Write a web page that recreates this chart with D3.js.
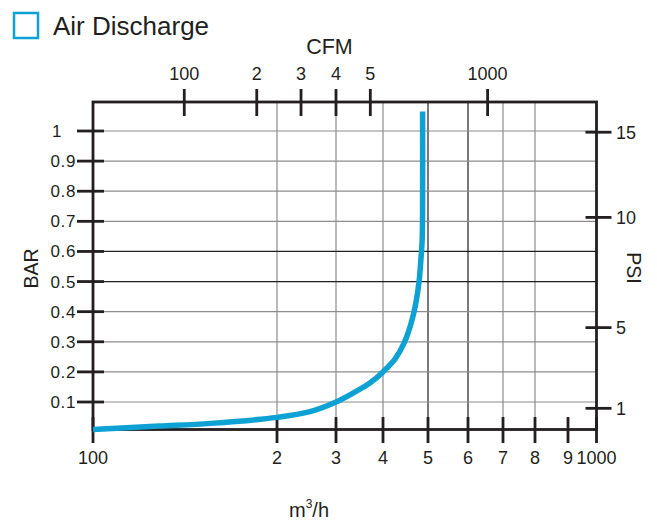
<!DOCTYPE html>
<html>
<head>
<meta charset="utf-8">
<script src="https://cdn.jsdelivr.net/npm/d3@7"></script>
<style>
  body { margin: 0; background: #fff; }
  text { font-family: "Liberation Sans", Arial, sans-serif; fill: #231f20; }
</style>
</head>
<body>
<div id="app"></div>
<script>
// curve: air flow (m3/h) vs pressure (bar)
const flowM3h     = [100, 136, 164, 200, 256, 300, 340, 372, 400, 427, 447, 462, 473, 480, 484, 487, 488, 488];
const pressureBar = [0.009, 0.02, 0.029, 0.049, 0.068, 0.1, 0.133, 0.163, 0.2, 0.243, 0.296, 0.359, 0.429, 0.498, 0.568, 0.638, 0.771, 1.065];

// bottom axis (m3/h)
const m3hTicks = [100, 200, 300, 400, 500, 600, 700, 800, 900, 1000];
const m3hTickLabels = ["100", "2", "3", "4", "5", "6", "7", "8", "9", "1000"];
const m3hGrid = [200, 300, 400, 500, 600, 700, 800];

// top axis (CFM), placed at their m3/h equivalent on the drawing
const cfmTicks = [149.6, 189, 240.7, 300, 373, 656];
const cfmTickLabels = ["100", "2", "3", "4", "5", "1000"];

// left axis (BAR)
const barTicks = [0.1, 0.2, 0.3, 0.4, 0.5, 0.6, 0.7, 0.8, 0.9, 1];
const barTickLabels = ["0.1", "0.2", "0.3", "0.4", "0.5", "0.6", "0.7", "0.8", "0.9", "1"];

// right axis (PSI), placed at their bar equivalent on the drawing
const psiTicks = [0.996, 0.713, 0.347, 0.079];
const psiTickLabels = ["15", "10", "5", "1"];

const width = 657;
const height = 520;
const plotLeft = 93, plotRight = 596.5, plotTop = 102, plotBottom = 429.5;
const ink = "#231f20";
const blue = "#0ea1d3";

// the printed scale is not a true log scale, so it is piecewise
const x = d3.scaleLinear()
  .domain(m3hTicks)
  .range([plotLeft, 277, 336, 383, 428, 468, 503, 535, 568, plotRight]);

const y = d3.scaleLinear()
  .domain([0.1, 1])
  .range([402, 131]);

const svg = d3.select("#app")
  .append("svg")
  .attr("width", width)
  .attr("height", height)
  .attr("viewBox", [0, 0, width, height]);

// legend
svg.append("rect")
  .attr("x", 14).attr("y", 13)
  .attr("width", 24).attr("height", 25)
  .attr("fill", "none")
  .attr("stroke", blue)
  .attr("stroke-width", 2.5);
svg.append("text")
  .attr("x", 53).attr("y", 35)
  .attr("font-size", 26)
  .text("Air Discharge");

// grid
const darkLines = new Set([500, 600, 0.5, 0.6]);
svg.append("g")
  .attr("stroke-width", 1.2)
  .call(g => g.append("g").selectAll("line")
    .data(m3hGrid)
    .join("line")
      .attr("x1", d => x(d)).attr("x2", d => x(d))
      .attr("y1", plotTop).attr("y2", plotBottom)
      .attr("stroke", d => darkLines.has(d) ? ink : "#8c8c8c"))
  .call(g => g.append("g").selectAll("line")
    .data(barTicks)
    .join("line")
      .attr("y1", d => y(d)).attr("y2", d => y(d))
      .attr("x1", plotLeft).attr("x2", plotRight)
      .attr("stroke", d => darkLines.has(d) ? ink : "#8c8c8c"));

// frame
svg.append("rect")
  .attr("x", plotLeft).attr("y", plotTop)
  .attr("width", plotRight - plotLeft)
  .attr("height", plotBottom - plotTop)
  .attr("fill", "none")
  .attr("stroke", ink)
  .attr("stroke-width", 2.8);

// bottom axis
const bottomAxis = svg.append("g");
bottomAxis.selectAll("line")
  .data(m3hTicks)
  .join("line")
    .attr("x1", d => x(d)).attr("x2", d => x(d))
    .attr("y1", plotBottom - 12.5).attr("y2", plotBottom + 13.5)
    .attr("stroke", ink).attr("stroke-width", 2.8);
bottomAxis.selectAll("text")
  .data(m3hTicks)
  .join("text")
    .attr("x", d => x(d))
    .attr("y", 464)
    .attr("text-anchor", "middle")
    .attr("font-size", 18)
    .text((d, i) => m3hTickLabels[i]);

const unit = svg.append("text")
  .attr("x", 289)
  .attr("y", 517)
  .attr("font-size", 20);
unit.append("tspan").text("m");
unit.append("tspan").attr("font-size", 12).attr("dy", -9).text("3");
unit.append("tspan").attr("dy", 9).text("/h");

// top axis
const topAxis = svg.append("g");
topAxis.selectAll("line")
  .data(cfmTicks)
  .join("line")
    .attr("x1", d => x(d)).attr("x2", d => x(d))
    .attr("y1", plotTop - 13).attr("y2", plotTop + 14)
    .attr("stroke", ink).attr("stroke-width", 2.8);
topAxis.selectAll("text")
  .data(cfmTicks)
  .join("text")
    .attr("x", d => x(d))
    .attr("y", 80)
    .attr("text-anchor", "middle")
    .attr("font-size", 18)
    .text((d, i) => cfmTickLabels[i]);
svg.append("text")
  .attr("x", 329.5).attr("y", 53.5)
  .attr("text-anchor", "middle")
  .attr("font-size", 21.5)
  .text("CFM");

// left axis
const leftAxis = svg.append("g");
leftAxis.selectAll("line")
  .data(barTicks)
  .join("line")
    .attr("x1", plotLeft - 16).attr("x2", plotLeft + 11)
    .attr("y1", d => y(d)).attr("y2", d => y(d))
    .attr("stroke", ink).attr("stroke-width", 2.8);
leftAxis.selectAll("text")
  .data(barTicks)
  .join("text")
    .attr("x", d => d === 1 ? 62 : 76)
    .attr("y", d => y(d))
    .attr("dy", "0.35em")
    .attr("text-anchor", "end")
    .attr("font-size", 17)
    .attr("letter-spacing", 0.6)
    .text((d, i) => barTickLabels[i]);
svg.append("text")
  .attr("transform", "translate(37.5,268.5) rotate(-90)")
  .attr("text-anchor", "middle")
  .attr("font-size", 19.5)
  .text("BAR");

// right axis
const rightAxis = svg.append("g");
rightAxis.selectAll("line")
  .data(psiTicks)
  .join("line")
    .attr("x1", plotRight - 11).attr("x2", plotRight + 15)
    .attr("y1", d => y(d)).attr("y2", d => y(d))
    .attr("stroke", ink).attr("stroke-width", 2.8);
rightAxis.selectAll("text")
  .data(psiTicks)
  .join("text")
    .attr("x", 616)
    .attr("y", d => y(d))
    .attr("dy", "0.35em")
    .attr("font-size", 18)
    .text((d, i) => psiTickLabels[i]);
svg.append("text")
  .attr("transform", "translate(627,268) rotate(90)")
  .attr("text-anchor", "middle")
  .attr("font-size", 19.5)
  .text("PSI");

// curve
const line = d3.line()
  .x((d, i) => x(flowM3h[i]))
  .y(d => y(d))
  .curve(d3.curveCatmullRom.alpha(0.5));

svg.append("path")
  .datum(pressureBar)
  .attr("fill", "none")
  .attr("stroke", blue)
  .attr("stroke-width", 5.5)
  .attr("d", line);
</script>
</body>
</html>
